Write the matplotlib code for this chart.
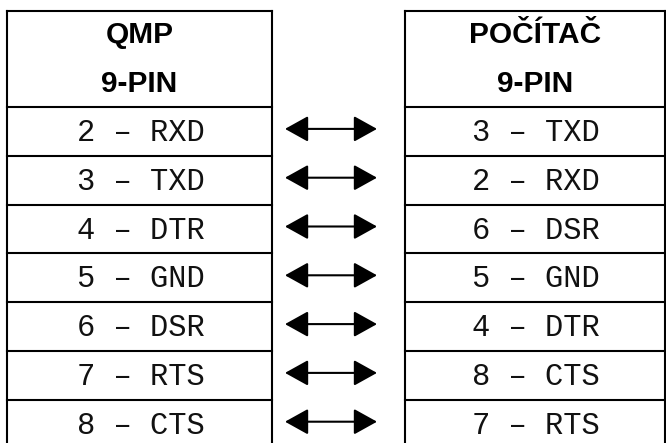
import matplotlib
matplotlib.use("Agg")
import matplotlib.pyplot as plt
from matplotlib.patches import FancyArrowPatch

# table contents
left_header = ["QMP", "9-PIN"]
right_header = ["POČÍTAČ", "9-PIN"]
left_pins = ["2 – RXD", "3 – TXD", "4 – DTR", "5 – GND", "6 – DSR", "7 – RTS", "8 – CTS"]
right_pins = ["3 – TXD", "2 – RXD", "6 – DSR", "5 – GND", "4 – DTR", "8 – CTS", "7 – RTS"]

W, H = 666, 443
fig = plt.figure(figsize=(W / 100, H / 100), dpi=100)
ax = fig.add_axes([0, 0, 1, 1])
ax.set_xlim(0, W)
ax.set_ylim(H, 0)
ax.axis("off")

top = 11
head_h = 96
row_h = 48.8
lw = 1.5
tables = [(7, 272, left_header, left_pins), (405, 665, right_header, right_pins)]

for x0, x1, header, pins in tables:
    xc = (x0 + x1) / 2
    bottom = top + head_h + row_h * len(pins)
    # outer frame + row lines
    ax.plot([x0, x0], [top, bottom], color="black", lw=lw, solid_capstyle="projecting")
    ax.plot([x1, x1], [top, bottom], color="black", lw=lw, solid_capstyle="projecting")
    ax.plot([x0, x1], [top, top], color="black", lw=lw, solid_capstyle="projecting")
    for i in range(len(pins) + 1):
        y = top + head_h + i * row_h
        ax.plot([x0, x1], [y, y], color="black", lw=lw, solid_capstyle="projecting")
    ax.text(xc, 35, header[0], ha="center", va="center", fontsize=21.5,
            fontweight="bold", family="Liberation Sans")
    ax.text(xc, 84, header[1], ha="center", va="center", fontsize=21.5,
            fontweight="bold", family="Liberation Sans")
    for i, p in enumerate(pins):
        y = top + head_h + (i + 0.5) * row_h
        ax.text(xc + 1, y + 1.5, p, ha="center", va="center", fontsize=22,
                family="Liberation Mono", color="#111111")

for i in range(len(left_pins)):
    y = top + head_h + (i + 0.5) * row_h - 2.5
    arr = FancyArrowPatch((285, y), (377, y), arrowstyle="<|-|>,head_length=1.44,head_width=0.8",
                          mutation_scale=10, color="black", lw=1.5, shrinkA=0, shrinkB=0)
    ax.add_patch(arr)

fig.savefig("out.png", dpi=100, facecolor="white")
